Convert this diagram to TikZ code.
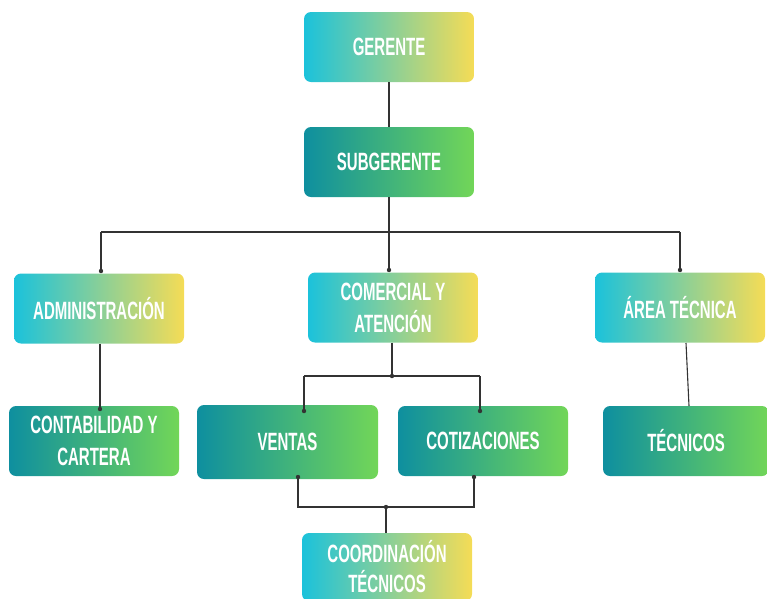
\documentclass[tikz,border=0pt]{standalone}
\usepackage{fontspec}
\newfontfamily\boxfont[FakeStretch=0.6]{Liberation Sans}
\definecolor{cyanL}{HTML}{1BC2DB}
\definecolor{yellowR}{HTML}{F5DC56}
\definecolor{tealL}{HTML}{0E8F9F}
\definecolor{greenR}{HTML}{72D658}
\definecolor{linec}{HTML}{333333}
\tikzset{
  box/.style={rectangle, rounded corners=7pt, minimum width=170pt, minimum height=70pt,
    inner sep=0pt, align=center, text=white,
    font=\boxfont\bfseries\fontsize{25}{32}\selectfont},
  boxcy/.style={box, left color=cyanL, right color=yellowR},
  boxtg/.style={box, left color=tealL, right color=greenR},
  conn/.style={draw=linec, line width=1.1pt},
  jdot/.style={fill=linec}
}
\begin{document}
\begin{tikzpicture}[x=1pt,y=-1pt]
\useasboundingbox (0,0) rectangle (767,598);
% nodes
\node[boxcy] (ger) at (389,47) {GERENTE};
\node[boxtg] (sub) at (389,162) {SUBGERENTE};
\node[boxcy] (adm) at (99,308.5) {ADMINISTRACIÓN};
\node[boxcy] (com) at (393,307.5) {COMERCIAL Y\\ATENCIÓN};
\node[boxcy] (are) at (680,307.5) {ÁREA TÉCNICA};
\node[boxtg] (con) at (94,441) {CONTABILIDAD Y\\CARTERA};
\node[boxtg, minimum width=181pt, minimum height=74pt] (ven) at (287.5,442) {VENTAS};
\node[boxtg] (cot) at (483,441) {COTIZACIONES};
\node[boxtg, minimum width=166pt] (tec) at (686,441) {TÉCNICOS};
\node[boxcy, minimum height=68pt] (coo) at (387,567) {COORDINACIÓN\\[-2pt]TÉCNICOS};
% coordinates
\coordinate (bL) at (101,232);
\coordinate (bR) at (680,232);
\coordinate (dA) at (101,271);
\coordinate (dC) at (389,270);
\coordinate (dR) at (680,270);
\coordinate (dCon) at (100,409);
\coordinate (jC) at (392,376);
\coordinate (jCL) at (304,376);
\coordinate (jCR) at (480,376);
\coordinate (dV) at (304,411);
\coordinate (dCt) at (480,411);
\coordinate (uV) at (298,477);
\coordinate (uC) at (474,477);
\coordinate (kL) at (298,507);
\coordinate (kR) at (474,507);
\coordinate (jB) at (386,507);
\coordinate (aT) at (686,343);
\coordinate (tT) at (689,406);
% connectors
\draw[conn] (ger.south) -- (sub.north);
\draw[conn] (sub.south) -- (dC);
\draw[conn] (bL) -- (bR);
\draw[conn] (bL) -- (dA);
\draw[conn] (bR) -- (dR);
\draw[conn] (adm.south -| dCon) -- (dCon);
\draw[conn] (com.south -| jC) -- (jC);
\draw[conn] (jCL) -- (jCR);
\draw[conn] (jCL) -- (dV);
\draw[conn] (jCR) -- (dCt);
\draw[conn] (aT) -- (tT);
\draw[conn] (uV) -- (kL) -- (kR) -- (uC);
\draw[conn] (jB) -- (coo.north -| jB);
% dots
\foreach \p in {dA,dC,dR,dCon,jC,dV,dCt,uV,uC,jB}
  \fill[jdot] (\p) circle (2.2pt);
\end{tikzpicture}
\end{document}
